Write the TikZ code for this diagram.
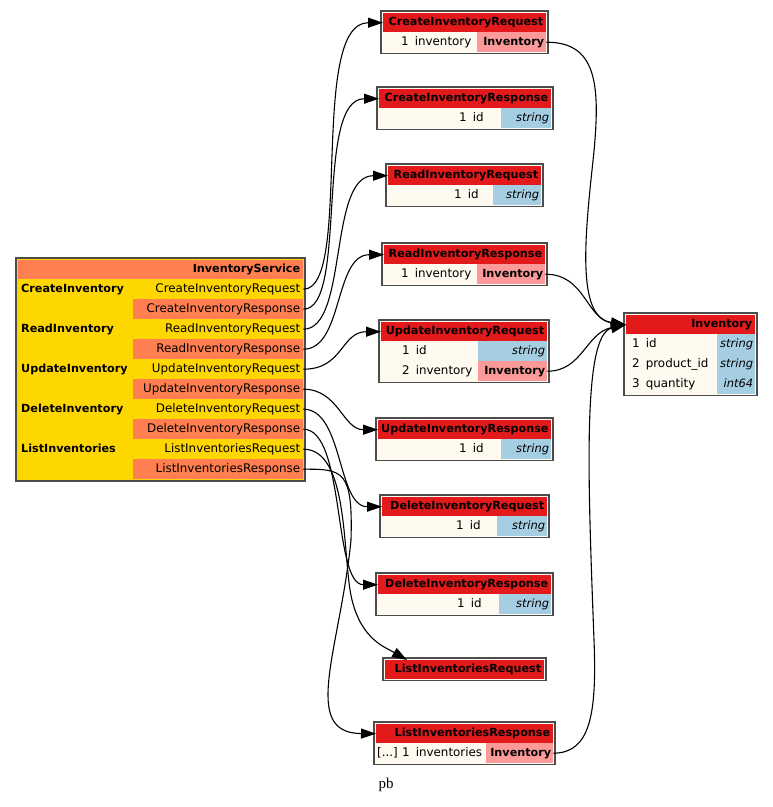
\documentclass[tikz,border=0pt]{standalone}
\usepackage{fontspec}
\newfontfamily\tblfont{DejaVu Sans}[BoldFont={DejaVu Sans Bold},ItalicFont={DejaVu Sans Oblique}]
\newfontfamily\pkgfont{Liberation Serif}
\usetikzlibrary{arrows.meta, positioning}
\definecolor{hdrred}{HTML}{E31A1C}
\definecolor{refpink}{HTML}{FB9A99}
\definecolor{scalblue}{HTML}{A6CEE3}
\definecolor{fieldbg}{HTML}{FFFAF0}
\definecolor{svcgold}{HTML}{FFD700}
\definecolor{svccoral}{HTML}{FF7F50}
\newcommand{\tblreg}{\tblfont\fontsize{11.9}{14}\selectfont}
\newcommand{\tblbold}{\tblfont\bfseries\fontsize{11.2}{13}\selectfont}
\newcommand{\tblital}{\tblfont\itshape\fontsize{11.5}{13}\selectfont}
\tikzset{
  tbl/.style={draw=black!70, line width=1.3pt, fill=fieldbg},
  cell/.style={anchor=north west, inner xsep=3pt, inner ysep=0pt, text height=9pt, text depth=2.8pt, align=right},
  hdr/.style={cell, fill=hdrred, minimum height=19pt, font=\tblbold},
  msgtype/.style={cell, inner xsep=2pt, fill=refpink, minimum height=20pt, font=\tblbold},
  scalar/.style={cell, inner xsep=2pt, fill=scalblue, minimum height=20pt, font=\tblital},
  fld/.style={anchor=west, inner sep=0pt, text height=9pt, text depth=2.8pt, font=\tblreg},
  meth/.style={fld, font=\tblbold},
  rpcin/.style={cell, fill=svcgold, minimum height=20pt, font=\tblreg},
  rpcout/.style={rpcin, fill=svccoral},
  link/.style={-{Triangle[length=15pt,width=10pt]}, line width=1.1pt},
}

\begin{document}
\begin{tikzpicture}[x=1pt, y=-1pt]
\useasboundingbox (0,0) rectangle (773,807);
% service table: methods on the left, request/response types on the right
\draw[tbl, fill=svcgold] (16,258) rectangle (305,481);
\node[hdr, fill=svccoral, text width=279pt] (svc) at (18,260) {InventoryService};
\node[meth] (m-create) at (21,289) {CreateInventory};
\node[meth] (m-read) at (21,329) {ReadInventory};
\node[meth] (m-update) at (21,369) {UpdateInventory};
\node[meth] (m-delete) at (21,409) {DeleteInventory};
\node[meth] (m-list) at (21,449) {ListInventories};
\node[rpcin, text width=164pt] (svc-cireq) at (133,279) {CreateInventoryRequest};
\node[rpcout, text width=164pt] (svc-ciresp) at (133,299) {CreateInventoryResponse};
\node[rpcin, text width=164pt] (svc-rireq) at (133,319) {ReadInventoryRequest};
\node[rpcout, text width=164pt] (svc-riresp) at (133,339) {ReadInventoryResponse};
\node[rpcin, text width=164pt] (svc-uireq) at (133,359) {UpdateInventoryRequest};
\node[rpcout, text width=164pt] (svc-uiresp) at (133,379) {UpdateInventoryResponse};
\node[rpcin, text width=164pt] (svc-direq) at (133,399) {DeleteInventoryRequest};
\node[rpcout, text width=164pt] (svc-diresp) at (133,419) {DeleteInventoryResponse};
\node[rpcin, text width=164pt] (svc-lireq) at (133,439) {ListInventoriesRequest};
\node[rpcout, text width=164pt] (svc-liresp) at (133,459) {ListInventoriesResponse};
% message tables, top to bottom
\draw[tbl] (381,11) rectangle (548,53.5);
\node[hdr, text width=157pt] (cireq) at (383,13) {CreateInventoryRequest};
\node[fld] (cireq-f1) at (401,42) {1\hspace{6pt}inventory};
\node[msgtype, text width=65pt] (cireq-t1) at (477,32) {Inventory};
\draw[tbl] (377,87) rectangle (553,129.5);
\node[hdr, text width=166pt] (ciresp) at (379,89) {CreateInventoryResponse};
\node[fld] (ciresp-f1) at (459,118) {1\hspace{6pt}id};
\node[scalar, text width=46pt] (ciresp-t1) at (501,108) {string};
\draw[tbl] (386,164) rectangle (543,206.5);
\node[hdr, text width=147pt] (rireq) at (388,166) {ReadInventoryRequest};
\node[fld] (rireq-f1) at (454,195) {1\hspace{6pt}id};
\node[scalar, text width=44pt] (rireq-t1) at (493,185) {string};
\draw[tbl] (382,243) rectangle (547,285.5);
\node[hdr, text width=155pt] (riresp) at (384,245) {ReadInventoryResponse};
\node[fld] (riresp-f1) at (401,274) {1\hspace{6pt}inventory};
\node[msgtype, text width=64pt] (riresp-t1) at (477,264) {Inventory};
\draw[tbl] (379,320) rectangle (549,382.5);
\node[hdr, text width=160pt] (uireq) at (381,322) {UpdateInventoryRequest};
\node[fld] (uireq-f1) at (402,351) {1\hspace{6pt}id};
\node[fld] (uireq-f2) at (402,371) {2\hspace{6pt}inventory};
\node[scalar, text width=65pt] (uireq-t1) at (478,341) {string};
\node[msgtype, text width=65pt] (uireq-t2) at (478,361) {Inventory};
\draw[tbl] (376,418) rectangle (553,460.5);
\node[hdr, text width=167pt] (uiresp) at (378,420) {UpdateInventoryResponse};
\node[fld] (uiresp-f1) at (459,449) {1\hspace{6pt}id};
\node[scalar, text width=46pt] (uiresp-t1) at (501,439) {string};
\draw[tbl] (380,495) rectangle (549,537.5);
\node[hdr, text width=159pt] (direq) at (382,497) {DeleteInventoryRequest};
\node[fld] (direq-f1) at (456,526) {1\hspace{6pt}id};
\node[scalar, text width=46pt] (direq-t1) at (497,516) {string};
\draw[tbl] (376,573) rectangle (553,615.5);
\node[hdr, text width=167pt] (diresp) at (378,575) {DeleteInventoryResponse};
\node[fld] (diresp-f1) at (457,604) {1\hspace{6pt}id};
\node[scalar, text width=48pt] (diresp-t1) at (499,594) {string};
\draw[tbl] (383,658) rectangle (546,680.5);
\node[hdr, text width=153pt] (lireq) at (385,660) {ListInventoriesRequest};
\draw[tbl] (374,722) rectangle (555,764.5);
\node[hdr, text width=171pt] (liresp) at (376,724) {ListInventoriesResponse};
\node[fld] (liresp-rep) at (377,753) {[...]};
\node[fld] (liresp-f1) at (402,753) {1\hspace{6pt}inventories};
\node[msgtype, text width=63pt] (liresp-t1) at (486,743) {Inventory};
% the shared Inventory message
\draw[tbl] (624,313) rectangle (757,395.5);
\node[hdr, text width=123pt] (inv) at (626,315) {Inventory};
\node[fld] (inv-f1) at (632,344) {1\hspace{6pt}id};
\node[fld] (inv-f2) at (632,364) {2\hspace{6pt}product\_id};
\node[fld] (inv-f3) at (632,384) {3\hspace{6pt}quantity};
\node[scalar, text width=34pt] (inv-t1) at (717,334) {string};
\node[scalar, text width=34pt] (inv-t2) at (717,354) {string};
\node[scalar, text width=34pt] (inv-t3) at (717,374) {int64};
% rpc types to their messages
\draw[link] (svc-cireq.east) .. controls +(50,0) and +(-75,0) .. (cireq.west);
\draw[link] (svc-ciresp.east) .. controls +(45,0) and +(-65,0) .. (ciresp.west);
\draw[link] (svc-rireq.east) .. controls +(45,0) and +(-60,0) .. (rireq.west);
\draw[link] (svc-riresp.east) .. controls +(40,0) and +(-50,0) .. (riresp.west);
\draw[link] (svc-uireq.east) .. controls +(40,0) and +(-40,0) .. (uireq.west);
\draw[link] (svc-uiresp.east) .. controls +(35,0) and +(-35,0) .. (uiresp.west);
\draw[link] (svc-direq.east) .. controls +(40,0) and +(-45,0) .. (direq.west);
\draw[link] (svc-diresp.east) .. controls +(42,0) and +(-45,0) .. (diresp.west);
\draw[link] (svc-lireq.east) .. controls (350,449) and (342,560) .. (352,600) .. controls (362,640) and (385,647) .. ([xshift=22pt]lireq.north west);
\draw[link] (svc-liresp.east) .. controls (343,469) and (353,470) .. (351,540) .. controls (340,650) and (300,733) .. (liresp.west);
% message fields of type Inventory
\draw[link] (cireq-t1.east) .. controls (600,42) and (601,90) .. (592,170) .. controls (584,245) and (578,318) .. (inv.west);
\draw[link] (riresp-t1.east) .. controls +(40,0) and +(-40,-6) .. (inv.west);
\draw[link] (uireq-t2.east) .. controls +(35,0) and +(-40,8) .. (inv.west);
\draw[link] (liresp-t1.east) .. controls (590,753) and (597,715) .. (594,640) .. controls (588,480) and (582,335) .. (inv.west);
\node[font=\pkgfont\fontsize{15}{17}\selectfont] (pkg) at (386,785) {pb};
\end{tikzpicture}
\end{document}
